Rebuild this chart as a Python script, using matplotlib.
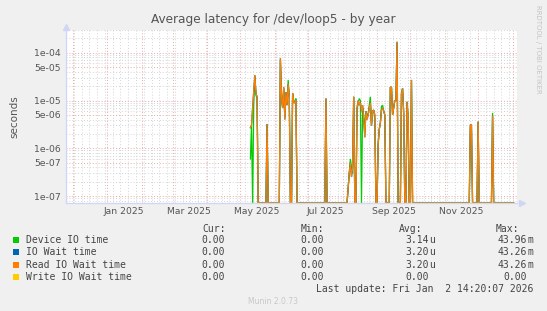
import numpy as np
import pandas as pd
import matplotlib
matplotlib.use('Agg')
import matplotlib.pyplot as plt
from matplotlib.ticker import FixedLocator, FuncFormatter, NullFormatter, LogLocator
from matplotlib.patches import Rectangle

W, H = 547, 311

# daily samples, day offset from 2025-01-01 (all other days in range are 0)
first_day, last_day = 129, 366
busy_days = [129, 130, 131, 132, 133, 134, 135, 144,
             156, 157, 158, 159, 160, 161, 162, 163, 164, 167, 168, 169, 170,
             197, 217, 218, 219, 220, 221, 222,
             225, 226, 227, 228, 229, 230, 231, 232, 233, 234, 235, 236, 237, 238, 239, 240, 241,
             244, 245, 246, 247, 248, 249, 250,
             255, 256, 257, 258, 259, 260, 261, 265, 266, 267, 270, 271, 274,
             327, 328, 334, 347]
read_wait = [2.7e-6, 3e-6, 7e-6, 1.5e-5, 3.4e-5, 1.4e-5, 1.2e-5, 3.2e-6,
             7.7e-5, 1.2e-5, 7e-6, 1.9e-5, 4e-6, 1.5e-5, 8e-6, 2.2e-5, 1.2e-5, 1.4e-5, 9e-6, 9e-6, 1e-5,
             1.1e-5, 1.5e-7, 3e-7, 5e-7, 2.5e-7, 4e-7, 1.2e-5,
             7e-6, 1e-5, 8e-6, 9e-6, 6e-6, 8e-6, 4e-6, 1.7e-6, 6e-6, 4e-6, 5e-6, 7e-6, 9e-6, 3e-6, 6e-6, 6.3e-6, 5e-6,
             1.2e-6, 2.5e-6, 3.4e-6, 6.3e-6, 7e-6, 6e-6, 5e-6,
             1.9e-5, 1.9e-5, 5e-6, 7e-6, 1e-5, 1e-5, 1.7e-4, 1.4e-5, 1.8e-5, 5.4e-6, 9.4e-6, 4.4e-6, 2.7e-5,
             3.1e-6, 3.1e-6, 3.6e-6, 4.8e-6]
device_io = [6e-7, 3e-6, 0, 8e-6, 3.2e-5, 1.3e-5, 1.1e-5, 3.2e-6,
             7e-5, 1.2e-5, 7e-6, 1.8e-5, 4.5e-6, 1.5e-5, 8e-6, 2.7e-5, 1.2e-5, 1.4e-5, 1e-5, 9e-6, 1.1e-5,
             1.1e-5, 1.5e-7, 3e-7, 6e-7, 4e-7, 3e-7, 1.2e-5,
             6e-6, 9e-6, 1.1e-5, 1e-5, 0, 7e-6, 5e-6, 2.2e-6, 6e-6, 5e-6, 5e-6, 8e-6, 1.2e-5, 3e-6, 6e-6, 6.3e-6, 4e-6,
             1.2e-6, 2.5e-6, 3.4e-6, 7.5e-6, 8e-6, 6e-6, 5e-6,
             1.9e-5, 1.9e-5, 5e-6, 7e-6, 1e-5, 1e-5, 1.6e-4, 1.4e-5, 1.8e-5, 5.4e-6, 9.4e-6, 4.4e-6, 2.7e-5,
             2.8e-6, 2.8e-6, 3.6e-6, 5.5e-6]

names = ['Device IO time', 'IO Wait time', 'Read IO Wait time', 'Write IO Wait time']
colors = ['#00cc00', '#0066b3', '#ff8000', '#ffcc00']
cur = ['0.00', '0.00', '0.00', '0.00']
mins = ['0.00', '0.00', '0.00', '0.00']
avgs = ['3.14u', '3.20u', '3.20u', '0.00']
maxs = ['43.96m', '43.26m', '43.26m', '0.00']

base = pd.Timestamp('2025-01-01')
days = np.arange(first_day, last_day + 1)
dates = base + pd.to_timedelta(days, unit='D')
idx = np.array(busy_days) - first_day

dev = np.zeros(len(days)); dev[idx] = device_io
rd = np.zeros(len(days)); rd[idx] = read_wait
series = [dev, rd, rd, np.zeros(len(days))]

ymin, ymax = 7.14e-8, 3.0e-4
end = pd.Timestamp('2026-01-02 14:20:07')
start = end - pd.Timedelta(days=400)

fig = plt.figure(figsize=(W / 100, H / 100), dpi=100, facecolor='#f0f0f0')
ax = fig.add_axes([66 / W, 1 - 203 / H, 451 / W, 173 / H])
ax.set_facecolor('white')

for vals, c in zip(series, colors):
    ax.plot(dates, np.clip(vals, ymin, None), color=c, lw=0.9, solid_joinstyle='miter')

ax.set_yscale('log')
ax.set_ylim(ymin, ymax)
ax.set_xlim(start, end)

ax.yaxis.set_major_locator(FixedLocator([1e-7, 5e-7, 1e-6, 5e-6, 1e-5, 5e-5, 1e-4]))
ax.yaxis.set_major_formatter(FuncFormatter(lambda v, p: '%.0e' % v))
ax.yaxis.set_minor_locator(LogLocator(subs=[2, 3, 4, 6, 7, 8, 9], numticks=30))
ax.yaxis.set_minor_formatter(NullFormatter())

months = pd.date_range('2024-12-01', '2026-01-01', freq='MS')
ax.set_xticks(months)
ax.set_xticklabels([''] * len(months))
weeks = pd.date_range('2024-11-25', '2026-01-05', freq='W-MON')
ax.set_xticks(weeks, minor=True)
# month labels sit in the middle of their month, as rrdtool does
for m in months:
    if m.month % 2 == 1 and m.year == 2025:
        ax.text(m + pd.Timedelta(days=15), -0.05, m.strftime('%b %Y'), transform=ax.get_xaxis_transform(),
                ha='center', va='center', fontsize=6.7, color='#555555')

dots = (0, (1, 2))
ax.grid(which='major', color='#eaa8a8', ls=dots, lw=0.7)
ax.grid(which='minor', color='#d4d4d4', ls=dots, lw=0.7)
ax.set_axisbelow(True)
ax.tick_params(which='both', length=0, labelsize=6.7, colors='#555555')
ax.tick_params(axis='y', pad=4)

for s in ['top', 'right']:
    ax.spines[s].set_visible(False)
for s in ['left', 'bottom']:
    ax.spines[s].set_color('#cfd6f8')
    ax.spines[s].set_linewidth(0.9)
ax.plot([0], [1.02], marker='^', color='#cfd6f8', ms=4, transform=ax.transAxes, clip_on=False)
ax.plot([1.01], [0], marker='>', color='#cfd6f8', ms=4, transform=ax.transAxes, clip_on=False)

ax.set_ylabel('seconds', fontsize=7.5, color='#555555', labelpad=10)


def fx(x):
    return x / W


def fy(y):
    return 1 - y / H


fig.text(fx(273.5), fy(20), 'Average latency for /dev/loop5 - by year', ha='center', va='center',
         fontsize=8.7, color='#555555')
fig.text(fx(538), fy(5), 'RRDTOOL / TOBI OETIKER', rotation=270, ha='center', va='top',
         fontsize=5, color='#c4c4c4')

mono = 'DejaVu Sans Mono'
fs = 7
for x, t in zip([202, 301, 399, 496], ['Cur:', 'Min:', 'Avg:', 'Max:']):
    fig.text(fx(x), fy(228.5), t, ha='left', va='center', fontsize=fs, family=mono, color='#444444')

row_y = [240, 252.3, 264.6, 277]
ends = [231 - 6, 330 - 6, 435 - 6, 533 - 6]
for i in range(4):
    y = row_y[i]
    fig.patches.append(Rectangle((fx(13), fy(y + 3)), 6 / W, 6 / H, transform=fig.transFigure,
                                 color=colors[i], lw=0))
    fig.text(fx(26), fy(y), names[i], ha='left', va='center', fontsize=fs, family=mono, color='#444444')
    for e, v in zip(ends, [cur[i], mins[i], avgs[i], maxs[i]]):
        num = v.rstrip('um')
        fig.text(fx(e), fy(y), num, ha='right', va='center', fontsize=fs, family=mono, color='#444444')
        if num != v:
            fig.text(fx(e), fy(y), v[-1], ha='left', va='center', fontsize=fs, family=mono, color='#444444')

fig.text(fx(533), fy(289.5), 'Last update: Fri Jan  2 14:20:07 2026', ha='right', va='center',
         fontsize=fs, family=mono, color='#444444')
fig.text(fx(272.5), fy(302), 'Munin 2.0.73', ha='center', va='center', fontsize=5.5, color='#c8c8c8')

fig.savefig('out.png', dpi=100, facecolor=fig.get_facecolor())
